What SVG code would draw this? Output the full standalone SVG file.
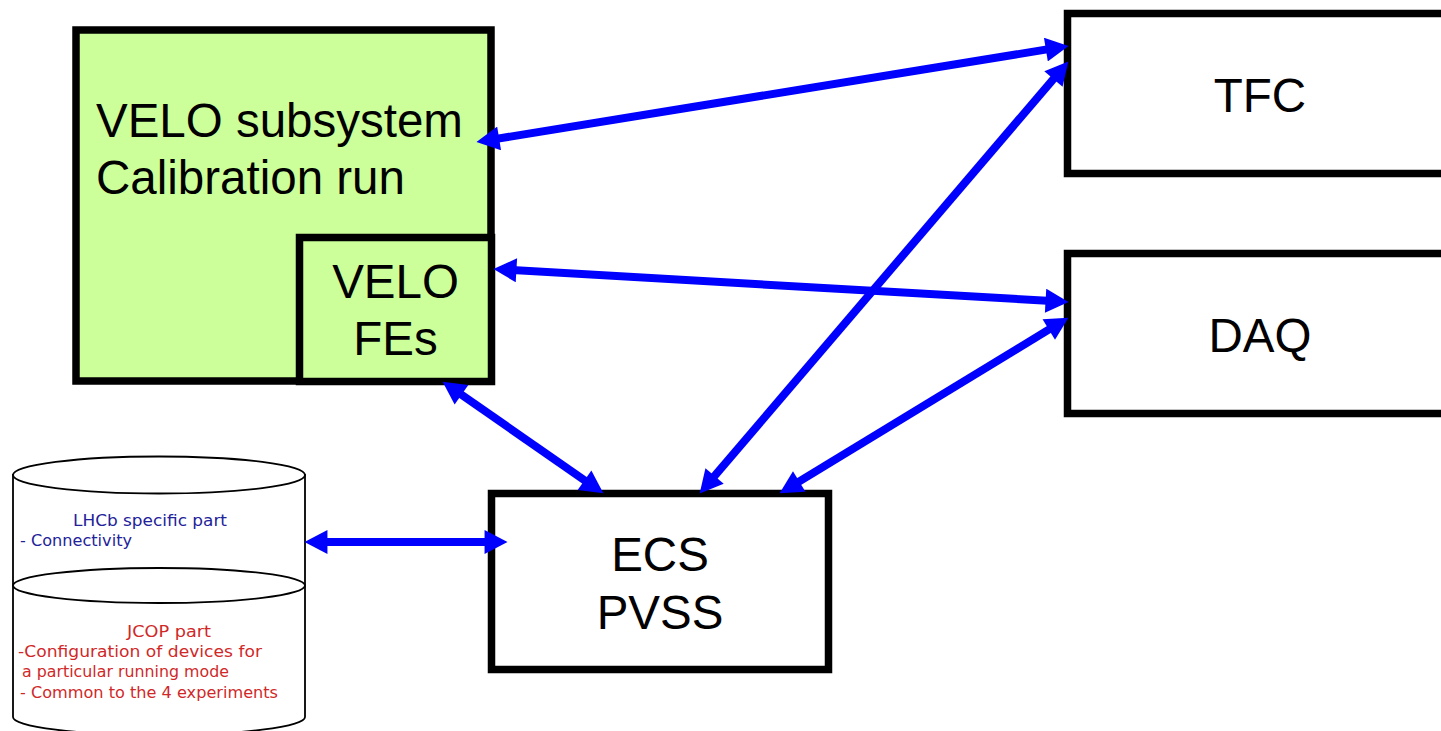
<svg xmlns="http://www.w3.org/2000/svg" width="1441" height="731" viewBox="0 0 1441 731">
<style>
.box{fill:#fff;stroke:#000;stroke-width:7.5}
.green{fill:#CCFF99;stroke:#000;stroke-width:7.5}
.big{font-family:"Liberation Sans",Arial,sans-serif;font-size:47.5px;fill:#000}
.conn{stroke:#0000FF;stroke-width:8;fill:none;marker-start:url(#ah);marker-end:url(#ah)}
.db{fill:#fff;stroke:#000;stroke-width:1.8}
.small{font-family:"DejaVu Sans","Liberation Sans",sans-serif;font-size:16.5px}
.blue{fill:#22229a}
.red{fill:#d02828}
</style>
<defs>
<marker id="ah" markerUnits="userSpaceOnUse" markerWidth="24" markerHeight="24" refX="10" refY="11.5" orient="auto-start-reverse" viewBox="0 0 22 23">
<path d="M0,0 L22,11.5 L0,23 z" fill="#0000FF"/>
</marker>
</defs>
<rect width="1441" height="731" fill="#fff"/>
<g id="velo-subsystem">
<rect class="green" x="76" y="30" width="415" height="351"/>
<text class="big" x="96" y="137">VELO subsystem</text>
<text class="big" x="96" y="194">Calibration run</text>
</g>
<g id="velo-fes">
<rect class="green" x="299.5" y="237.5" width="192" height="144"/>
<text class="big" x="395.5" y="298" text-anchor="middle">VELO</text>
<text class="big" x="395.5" y="355" text-anchor="middle">FEs</text>
</g>
<g id="tfc">
<rect class="box" x="1067.5" y="13.5" width="400" height="160"/>
<text class="big" x="1260" y="112" text-anchor="middle">TFC</text>
</g>
<g id="daq">
<rect class="box" x="1067.5" y="253.5" width="400" height="160"/>
<text class="big" x="1260" y="352" text-anchor="middle">DAQ</text>
</g>
<g id="ecs">
<rect class="box" x="491.5" y="493.5" width="337" height="176"/>
<text class="big" x="660" y="571" text-anchor="middle">ECS</text>
<text class="big" x="660" y="629" text-anchor="middle">PVSS</text>
</g>
<g id="database">
<path class="db" d="M13,475 L13,717 A146,18 0 0 0 305,717 L305,475 Z"/>
<ellipse class="db" cx="159" cy="475" rx="146" ry="18.5"/>
<ellipse class="db" cx="159" cy="585.5" rx="146" ry="17.5"/>
<text class="small blue" x="73" y="526" textLength="154" lengthAdjust="spacingAndGlyphs">LHCb specific part</text>
<text class="small blue" x="20" y="546" textLength="112" lengthAdjust="spacingAndGlyphs">- Connectivity</text>
<text class="small red" x="127" y="637" textLength="84" lengthAdjust="spacingAndGlyphs">JCOP part</text>
<text class="small red" x="18" y="657" textLength="244" lengthAdjust="spacingAndGlyphs">-Configuration of devices for</text>
<text class="small red" x="22" y="677" textLength="207" lengthAdjust="spacingAndGlyphs">a particular running mode</text>
<text class="small red" x="20" y="698" textLength="258" lengthAdjust="spacingAndGlyphs">- Common to the 4 experiments</text>
</g>
<g id="connectors">
<line class="conn" x1="488.8" y1="140.1" x2="1056.2" y2="47.9"/>
<line class="conn" x1="506" y1="269.7" x2="1056" y2="301.3"/>
<line class="conn" x1="452.9" y1="388.8" x2="593.1" y2="486.2"/>
<line class="conn" x1="1060.2" y1="71.1" x2="707.8" y2="483.9"/>
<line class="conn" x1="1057.7" y1="324.2" x2="790.3" y2="486.8"/>
<line class="conn" x1="317" y1="542" x2="495" y2="542"/>
</g>
</svg>
